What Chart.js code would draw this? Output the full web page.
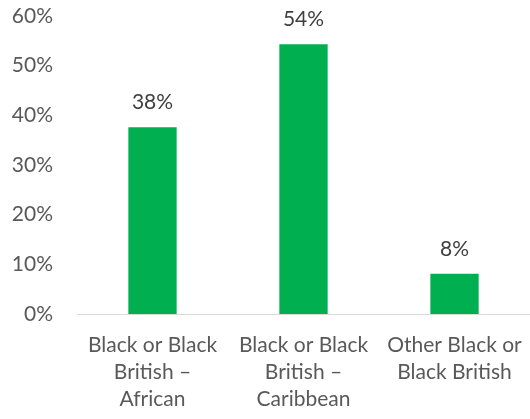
<!DOCTYPE html>
<html>
<head>
<meta charset="utf-8">
<script src="https://cdn.jsdelivr.net/npm/chart.js@4/dist/chart.umd.min.js"></script>
<style>
  html, body { margin: 0; padding: 0; background: #ffffff; }
  #wrap { width: 530px; height: 419px; position: relative; }
</style>
</head>
<body>
<div id="wrap"><canvas id="chart"></canvas></div>
<script>
// Share of respondents by Black ethnic subgroup (percent)
const categories = [
  ['Black or Black', 'British \u2013', 'African'],
  ['Black or Black', 'British \u2013', 'Caribbean'],
  ['Other Black or', 'Black British']
];
const shares = [37.6, 54.3, 8.1];
const yTicks = [0, 10, 20, 30, 40, 50, 60];

const textColor = '#595959';
const fontFamily = 'Lato, "Open Sans", sans-serif';
const fontSize = 21;

// Draws the rounded percentage above each bar
const valueLabels = {
  id: 'valueLabels',
  afterDatasetsDraw(chart) {
    const ctx = chart.ctx;
    const meta = chart.getDatasetMeta(0);
    ctx.save();
    ctx.fillStyle = '#404040';
    ctx.font = fontSize + 'px ' + fontFamily;
    ctx.textAlign = 'center';
    ctx.textBaseline = 'middle';
    meta.data.forEach((bar, i) => {
      const v = chart.data.datasets[0].data[i];
      ctx.fillText(Math.round(v) + '%', bar.x, bar.y - 25);
    });
    ctx.restore();
  }
};

new Chart(document.getElementById('chart'), {
  type: 'bar',
  data: {
    labels: categories,
    datasets: [{
      data: shares,
      backgroundColor: '#00B050',
      borderWidth: 0,
      barPercentage: 0.64,
      categoryPercentage: 0.5
    }]
  },
  options: {
    responsive: true,
    maintainAspectRatio: false,
    animation: false,
    layout: { padding: { top: 16, right: 0, left: 0, bottom: 0 } },
    plugins: { legend: { display: false }, tooltip: { enabled: false } },
    scales: {
      x: {
        grid: { display: false, drawTicks: false },
        border: { display: true, color: '#D9D9D9', width: 1 },
        ticks: {
          color: textColor,
          font: { family: fontFamily, size: fontSize, lineHeight: '27px' },
          padding: 18,
          maxRotation: 0,
          autoSkip: false
        },
        afterFit(scale) {
          scale.height = 105;
          scale.paddingLeft = 0;
          scale.paddingRight = 0;
        }
      },
      y: {
        min: 0,
        max: 60,
        afterBuildTicks(scale) { scale.ticks = yTicks.map(v => ({ value: v })); },
        grid: { display: false, drawTicks: false },
        border: { display: false },
        ticks: {
          color: textColor,
          font: { family: fontFamily, size: fontSize },
          padding: 24,
          callback: v => v + '%'
        },
        afterFit(scale) {
          scale.width = 77;
          scale.paddingTop = 0;
          scale.paddingBottom = 0;
        }
      }
    }
  },
  plugins: [valueLabels]
});
</script>
</body>
</html>
